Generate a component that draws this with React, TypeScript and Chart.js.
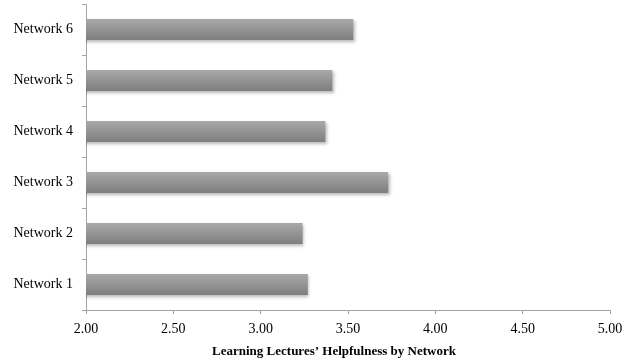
import React, { useEffect, useRef } from "react";
import { Chart, registerables } from "chart.js";

Chart.register(...registerables);

const networks = ["Network 1", "Network 2", "Network 3", "Network 4", "Network 5", "Network 6"];
const helpfulness = [3.27, 3.24, 3.73, 3.37, 3.41, 3.53];
const axisMin = 2;
const axisMax = 5;
const axisStep = 0.5;
const axisTitle = "Learning Lectures\u2019 Helpfulness by Network";

const serif = '"Liberation Serif", "Times New Roman", serif';
const axisGray = "#a3a3a3";

// soft drop shadow under the bars
const barShadow = {
  id: "barShadow",
  beforeDatasetsDraw(chart: any) {
    const ctx = chart.ctx;
    ctx.save();
    ctx.shadowColor = "rgba(0,0,0,0.28)";
    ctx.shadowBlur = 3;
    ctx.shadowOffsetX = 1.5;
    ctx.shadowOffsetY = 2;
  },
  afterDatasetsDraw(chart: any) {
    chart.ctx.restore();
  },
};

// bold caption under the value axis
const caption = {
  id: "caption",
  afterDraw(chart: any) {
    const ctx = chart.ctx;
    const x = chart.scales.x;
    ctx.save();
    ctx.font = `bold 13px ${serif}`;
    ctx.fillStyle = "#000";
    ctx.textAlign = "center";
    ctx.textBaseline = "alphabetic";
    ctx.fillText(axisTitle, (x.left + x.right) / 2 - 14, chart.height - 9);
    ctx.restore();
  },
};

export default function App() {
  const canvasRef = useRef<HTMLCanvasElement | null>(null);

  useEffect(() => {
    const canvas = canvasRef.current;
    if (!canvas) return;
    const chart = new Chart(canvas, {
      type: "bar",
      data: {
        labels: networks,
        datasets: [
          {
            data: helpfulness,
            backgroundColor: (c: any) => {
              const ch = c.chart;
              if (!ch.chartArea || c.dataIndex === undefined) return "#959595";
              const yScale = ch.scales.y;
              const cy = yScale.getPixelForValue(c.dataIndex);
              const half = (yScale.height / networks.length) * 0.41 / 2;
              const g = ch.ctx.createLinearGradient(0, cy - half, 0, cy + half);
              g.addColorStop(0, "#a9a9a9");
              g.addColorStop(1, "#7e7e7e");
              return g;
            },
            borderWidth: 0,
            categoryPercentage: 1,
            barPercentage: 0.41,
          },
        ],
      },
      options: {
        indexAxis: "y",
        animation: false,
        responsive: false,
        maintainAspectRatio: false,
        layout: { padding: { top: 4, right: 24, left: 0, bottom: 0 } },
        plugins: {
          legend: { display: false },
          tooltip: { enabled: false },
        },
        scales: {
          x: {
            min: axisMin,
            max: axisMax,
            border: { display: true, color: axisGray, width: 1 },
            grid: {
              drawOnChartArea: false,
              drawTicks: true,
              tickLength: 4,
              color: axisGray,
            },
            ticks: {
              stepSize: axisStep,
              color: "#000",
              padding: 7,
              font: { family: serif, size: 14 },
              callback: (v: any) => Number(v).toFixed(2),
              maxRotation: 0,
            },
            afterFit: (s: any) => {
              s.height = 54;
            },
          },
          y: {
            reverse: true,
            border: { display: true, color: axisGray, width: 1 },
            grid: {
              offset: true,
              drawOnChartArea: false,
              drawTicks: true,
              tickLength: 4,
              color: axisGray,
            },
            ticks: {
              color: "#000",
              padding: 9,
              font: { family: serif, size: 14 },
            },
            afterFit: (s: any) => {
              s.width = 86;
              s.paddingTop = 0;
              s.paddingBottom = 0;
            },
          },
        },
      },
      plugins: [barShadow, caption],
    });
    return () => chart.destroy();
  }, []);

  return (
    <div style={{ position: "fixed", left: 0, top: 0, width: 634, height: 364, background: "#fff" }}>
      <canvas ref={canvasRef} width={634} height={364} style={{ display: "block" }} />
    </div>
  );
}
